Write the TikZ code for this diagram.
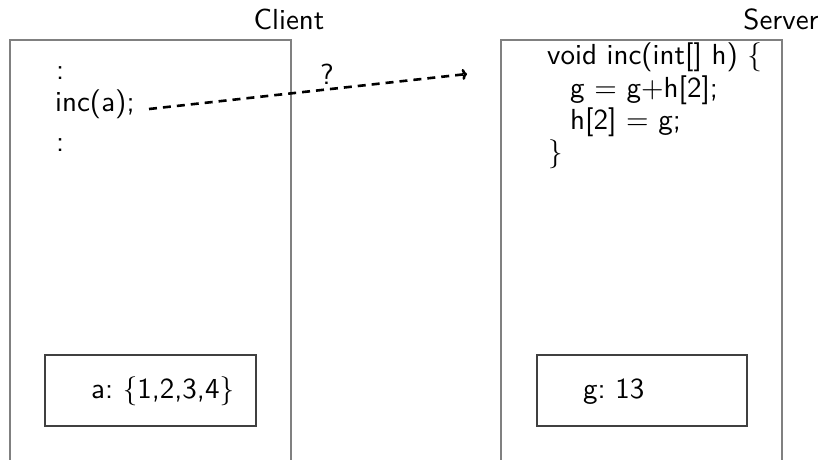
\documentclass[tikz,border=0pt]{standalone}
\usepackage{fontspec}
\setsansfont{lmsans10-regular.otf}
\setmainfont{lmroman10-regular.otf}
\usetikzlibrary{arrows.meta}
\newcommand{\lb}{{\rmfamily\{}}
\newcommand{\rb}{{\rmfamily\}}}
\newcommand{\eqs}{{\rmfamily =}}
\newcommand{\pls}{{\rmfamily +}}
\begin{document}
\begin{tikzpicture}[x=1pt,y=-1pt,
  every node/.style={font=\fontsize{29}{35}\selectfont\sffamily, inner sep=0pt},
  outerbox/.style={draw=black!50, line width=1.8pt},
  innerbox/.style={draw=black!75, line width=1.1pt},
  txt/.style={anchor=base west},
  lbl/.style={anchor=base},
  call/.style={dash pattern=on 8pt off 6pt, line width=2.6pt, -{To[length=5pt,width=11pt]}}
]
\useasboundingbox (0,0) rectangle (823,460);
\clip (0,0) rectangle (823,460);
% outer boxes
\draw[outerbox] (10,480) -- (10,40) coordinate (cTL) -- (291,40) coordinate (cTR) -- (291,480);
\draw[outerbox] (501,480) -- (501,40) coordinate (sTL) -- (782,40) coordinate (sTR) -- (782,480);
\node[lbl] (client) at (289,30) {Client};
\node[lbl] (server) at (781,30) {Server};
% inner boxes
\draw[innerbox] (45,355) rectangle (256,426);
\draw[innerbox] (537,355) rectangle (747,426);
\node[txt] (a) at (91,398) {a:\ \lb1,2,3,4\rb};
\node[txt] (g) at (583,398) {g:\ 13};
% client code
\node[txt] (d1) at (56,80) {:};
\node[txt] (inc) at (55,112) {inc(a);};
\node[txt] (d2) at (56,152) {:};
% server code
\node[txt] (s1) at (547,65) {void inc(int[] h) \lb};
\node[txt] (s2) at (570,98) {g \eqs{} g\pls h[2];};
\node[txt] (s3) at (570,130) {h[2] \eqs{} g;};
\node[txt] (s4) at (548,161) {\rb};
% call arrow
\coordinate (start) at (149,109);
\coordinate (tip) at (467,74);
\draw[call] (start) -- node[pos=.56, above=4pt] (q) {?} (tip);
\end{tikzpicture}
\end{document}
